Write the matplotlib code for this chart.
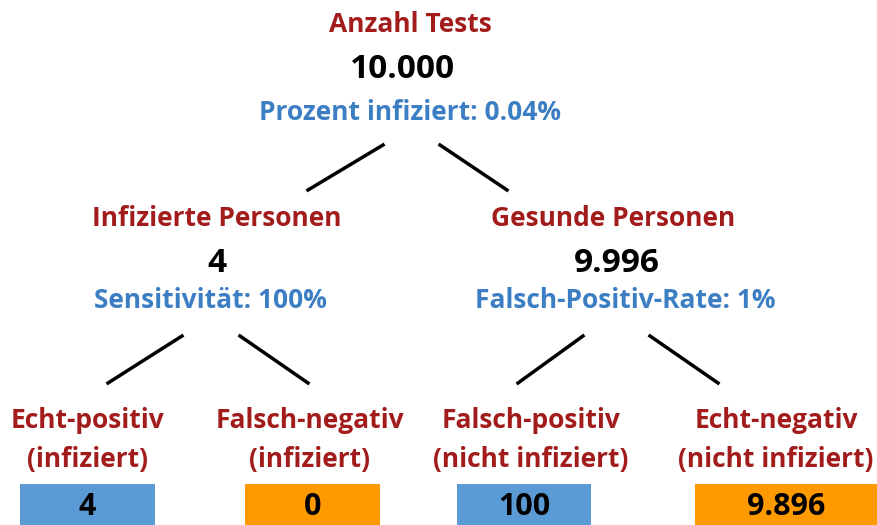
import matplotlib
matplotlib.use('Agg')
import matplotlib.pyplot as plt
from matplotlib.patches import Rectangle

plt.rcParams['font.family'] = ['Open Sans', 'DejaVu Sans']

# tree data
top_title = 'Anzahl Tests'
top_value = '10.000'
top_rate = 'Prozent infiziert: 0.04%'

mid_titles = ['Infizierte Personen', 'Gesunde Personen']
mid_values = ['4', '9.996']
mid_rates = ['Sensitivität: 100%', 'Falsch-Positiv-Rate: 1%']

leaf_titles = ['Echt-positiv', 'Falsch-negativ', 'Falsch-positiv', 'Echt-negativ']
leaf_subtitles = ['(infiziert)', '(infiziert)', '(nicht infiziert)', '(nicht infiziert)']
leaf_values = ['4', '0', '100', '9.896']

RED = '#A31C1C'
BLUE = '#3C7EC3'
BOX_BLUE = '#5B9BD5'
ORANGE = '#FF9900'
box_colors = [BOX_BLUE, ORANGE, BOX_BLUE, ORANGE]

LABEL_FS = 19
NUM_FS = 24

fig = plt.figure(figsize=(8.78, 5.25), dpi=100)
ax = fig.add_axes([0, 0, 1, 1])
ax.set_xlim(0, 878)
ax.set_ylim(525, 0)
ax.axis('off')

# top node
ax.text(410, 24, top_title, color=RED, fontsize=LABEL_FS, fontweight='bold', ha='center', va='center')
ax.text(403, 70, top_value, color='black', fontsize=NUM_FS, fontweight='bold', ha='center', va='center')
ax.text(410, 113, top_rate, color=BLUE, fontsize=LABEL_FS, fontweight='bold', ha='center', va='center')

# branches from top
ax.plot([383, 308], [145, 190], color='black', lw=2.5)
ax.plot([440, 507], [145, 190], color='black', lw=2.5)

# middle nodes
title_x = [217, 613]
value_x = [217, 617]
rate_x = [210, 625]
for i in range(2):
    ax.text(title_x[i], 219, mid_titles[i], color=RED, fontsize=LABEL_FS, fontweight='bold', ha='center', va='center')
    ax.text(value_x[i], 263, mid_values[i], color='black', fontsize=NUM_FS, fontweight='bold', ha='center', va='center')
    ax.text(rate_x[i], 300, mid_rates[i], color=BLUE, fontsize=LABEL_FS, fontweight='bold', ha='center', va='center')

# branches from middle
for x0, x1 in [(182, 108), (240, 308), (583, 518), (650, 718)]:
    ax.plot([x0, x1], [336, 383], color='black', lw=2.5)

# leaves
leaf_x = [88, 310, 531, 776]
box_x = [(20, 155), (245, 380), (457, 591), (695, 878)]
for x, t, s, v, c, (bx0, bx1) in zip(leaf_x, leaf_titles, leaf_subtitles, leaf_values, box_colors, box_x):
    ax.text(x, 420, t, color=RED, fontsize=LABEL_FS, fontweight='bold', ha='center', va='center')
    ax.text(x, 459, s, color=RED, fontsize=LABEL_FS, fontweight='bold', ha='center', va='center')
    ax.add_patch(Rectangle((bx0, 484), bx1 - bx0, 45, facecolor=c, edgecolor='none'))
    ax.text((bx0 + bx1) / 2 if bx1 < 878 else 786, 507, v, color='black', fontsize=22,
            fontweight='bold', ha='center', va='center')

fig.savefig('out.png', dpi=100)
